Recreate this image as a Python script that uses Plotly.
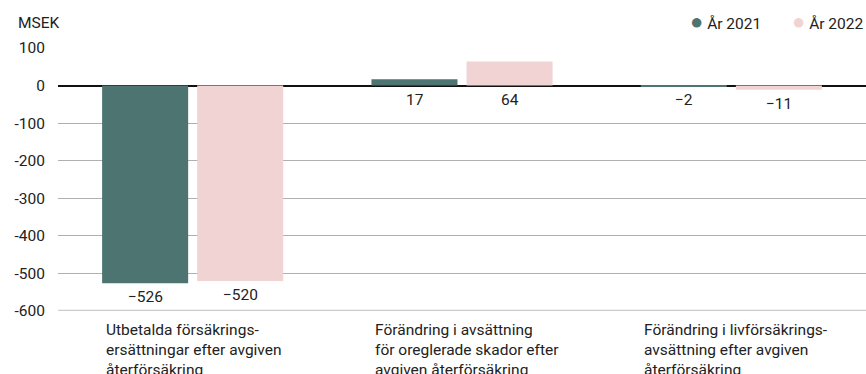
import plotly.graph_objects as go

categories = ["Utbetalda försäkrings-<br>ersättningar efter avgiven<br>återförsäkring",
              "Förändring i avsättning<br>för oreglerade skador efter<br>avgiven återförsäkring",
              "Förändring i livförsäkrings-<br>avsättning efter avgiven<br>återförsäkring"]
cat_keys = ["c1", "c2", "c3"]
series_names = ["År 2021", "År 2022"]
values_2021 = [-526, 17, -2]
values_2022 = [-520, 64, -11]
colors = ["#4d7471", "#f1d3d4"]
tick_vals = [100, 0, -100, -200, -300, -400, -500, -600]
tick_text = ["100", "0", "-100", "-200", "-300", "-400", "-500", "-600"]

FONT = "Roboto"
FS = 15.5
fig = go.Figure()
for name, vals, col in zip(series_names, [values_2021, values_2022], colors):
    fig.add_trace(go.Bar(x=cat_keys, y=vals, name=name, marker=dict(color=col, line=dict(width=0)),
                         showlegend=False, hoverinfo="skip"))

annotations = []
# value labels
offsets = [-47.5, 47.5]
for vals, off in zip([values_2021, values_2022], offsets):
    for k, v in zip(cat_keys, vals):
        lab = str(v).replace("-", "\u2212")
        annotations.append(dict(x=k, y=min(v, 0), xref="x", yref="y", text=lab, showarrow=False,
                                xanchor="center", yanchor="top", xshift=off, yshift=-3,
                                font=dict(family=FONT, size=FS, color="#222")))
# category labels
for k, txt in zip(cat_keys, categories):
    annotations.append(dict(x=k, y=0, xref="x", yref="paper", text=txt, showarrow=False,
                            xanchor="left", yanchor="top", align="left", xshift=-89, yshift=-8,
                            font=dict(family=FONT, size=FS, color="#222")))
# y-axis title
annotations.append(dict(x=0, y=1, xref="paper", yref="paper", text="MSEK", showarrow=False,
                        xanchor="right", yanchor="bottom", xshift=4, yshift=14,
                        font=dict(family=FONT, size=FS, color="#222")))
# legend
for name, col, xpx in zip(series_names, colors, [688, 790]):
    annotations.append(dict(x=(xpx - 58) / 808, y=1, xref="paper", yref="paper",
                            text=f"<span style='color:{col};font-size:22px'>●</span> {name}",
                            showarrow=False, xanchor="left", yanchor="bottom", yshift=12,
                            font=dict(family=FONT, size=FS, color="#222")))

fig.update_layout(
    width=866, height=374,
    margin=dict(l=58, r=0, t=48, b=63),
    paper_bgcolor="white", plot_bgcolor="white",
    barmode="group", bargap=0.294, bargroupgap=0.095,
    annotations=annotations,
    font=dict(family=FONT, size=FS, color="#222"),
    xaxis=dict(showticklabels=False, showgrid=False, zeroline=False, showline=False, fixedrange=True),
    yaxis=dict(range=[-600, 100], tickvals=tick_vals, ticktext=tick_text, showgrid=True,
               gridcolor="#b0b0b0", gridwidth=1, zeroline=True, zerolinecolor="#111", zerolinewidth=1.5,
               ticks="", ticklabelstandoff=12, tickfont=dict(family=FONT, size=FS, color="#222"),
               showline=False, fixedrange=True),
)
fig.add_hline(y=-600, line=dict(color="#cccccc", width=2.5))
fig.write_html("out.html")
